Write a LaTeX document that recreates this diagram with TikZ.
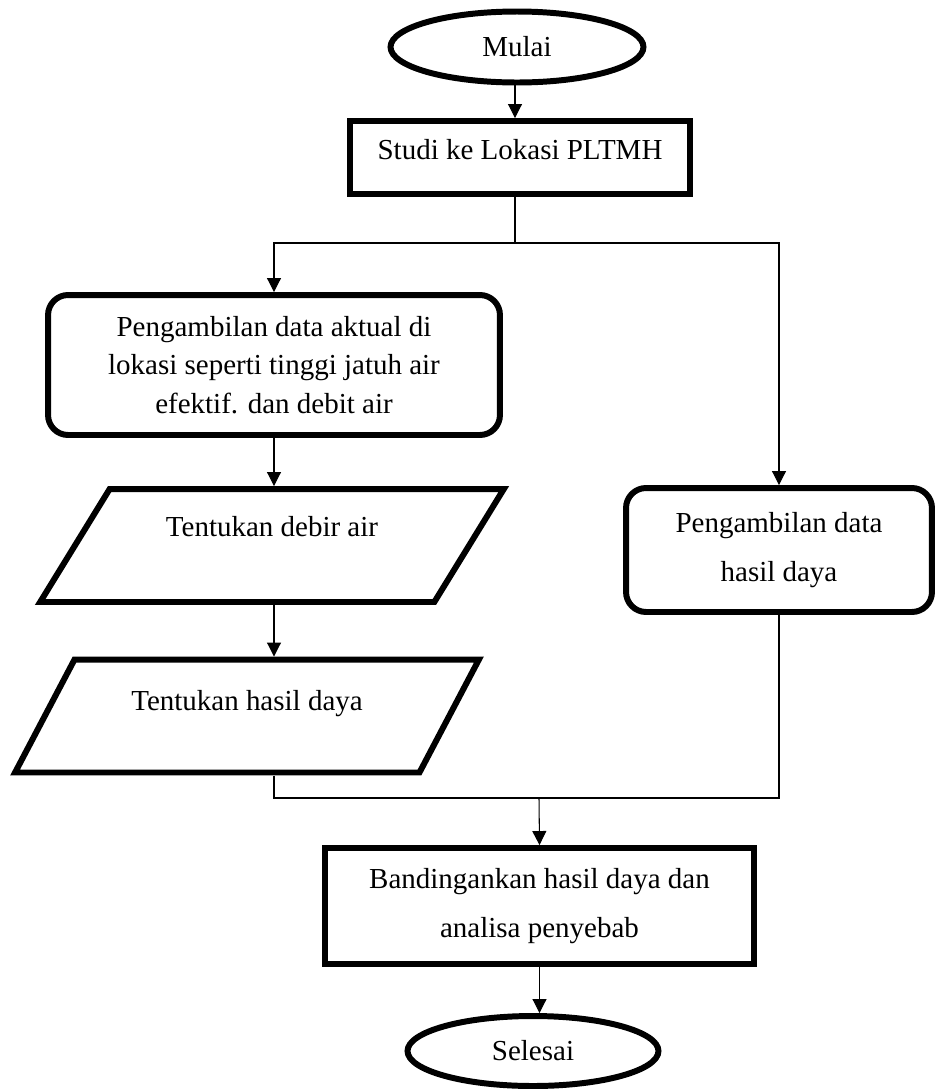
\documentclass[tikz,border=0pt]{standalone}
\usepackage{fontspec}
\setmainfont{Liberation Serif}
\newfontfamily\flowfont{Liberation Serif}
\usetikzlibrary{arrows.meta,shapes.geometric}

\begin{document}
\begin{tikzpicture}[
x=0.02cm, y=-0.02cm,
font=\flowfont\fontsize{16.5}{22}\selectfont,
terminal/.style={ellipse, draw, line width=3.4pt, inner sep=0pt, minimum width=5.06cm, minimum height=1.42cm},
process/.style={rectangle, draw, line width=3.4pt, inner sep=0pt, align=center},
softbox/.style={process, rounded corners=0.4cm},
iobox/.style={trapezium, trapezium left angle=52, trapezium right angle=128, trapezium stretches=true, draw, line width=3.4pt, inner sep=0pt, minimum width=9.28cm, minimum height=2.26cm},
flow/.style={line width=0.6pt, -{Triangle[width=0.28cm,length=0.28cm]}},
joinline/.style={line width=0.6pt}
]
    % Frame
    \useasboundingbox (0,0) rectangle (939,1089);

    % Steps
    \node[terminal] (mulai) at (517,47) {Mulai};
    \node[process, minimum width=6.8cm, minimum height=1.46cm, text depth=9pt] (studi) at (520,157.5) {Studi ke Lokasi PLTMH};
    \node[softbox, minimum width=9.04cm, minimum height=2.8cm] (aktual) at (274,365)
        {Pengambilan data aktual di\\lokasi seperti tinggi jatuh air\\efektif. dan debit air};
    \node[iobox, text depth=21.6pt] (debit) at (272,545.5) {Tentukan debir air};
    \node[iobox, text depth=17.6pt] (daya) at (247,716) {Tentukan hasil daya};
    \node[softbox, font=\flowfont\fontsize{16.5}{28}\selectfont, minimum width=6.12cm, minimum height=2.48cm] (hasil) at (779,550)
        {Pengambilan data\\hasil daya};
    \node[process, font=\flowfont\fontsize{16.5}{28}\selectfont, minimum width=8.58cm, minimum height=2.32cm] (banding) at (539.5,906)
        {Bandingankan hasil daya dan\\analisa penyebab};
    \node[terminal, minimum width=5.02cm, minimum height=1.4cm] (selesai) at (533,1051) {Selesai};

    % Branch points
    \coordinate (split) at (515,243);
    \coordinate (merge) at (539,798);

    % Connectors
    \draw[flow] (split |- mulai.south) -- (split |- studi.north);
    \draw[joinline] (split |- studi.south) -- (split);
    \draw[flow] (split) -| (aktual.north);
    \draw[flow] (split) -| (hasil.north);

    \draw[flow] (aktual.south) -- (aktual.south |- debit.north);
    \draw[flow] (aktual.south |- debit.south) -- (aktual.south |- daya.north);

    \draw[joinline] (aktual.south |- daya.south) |- (merge);
    \draw[joinline] (hasil.south) |- (merge);
    \draw[flow] (merge) -- (banding.north);
    \draw[flow] (banding.south) -- (banding.south |- selesai.north);

\end{tikzpicture}
\end{document}
